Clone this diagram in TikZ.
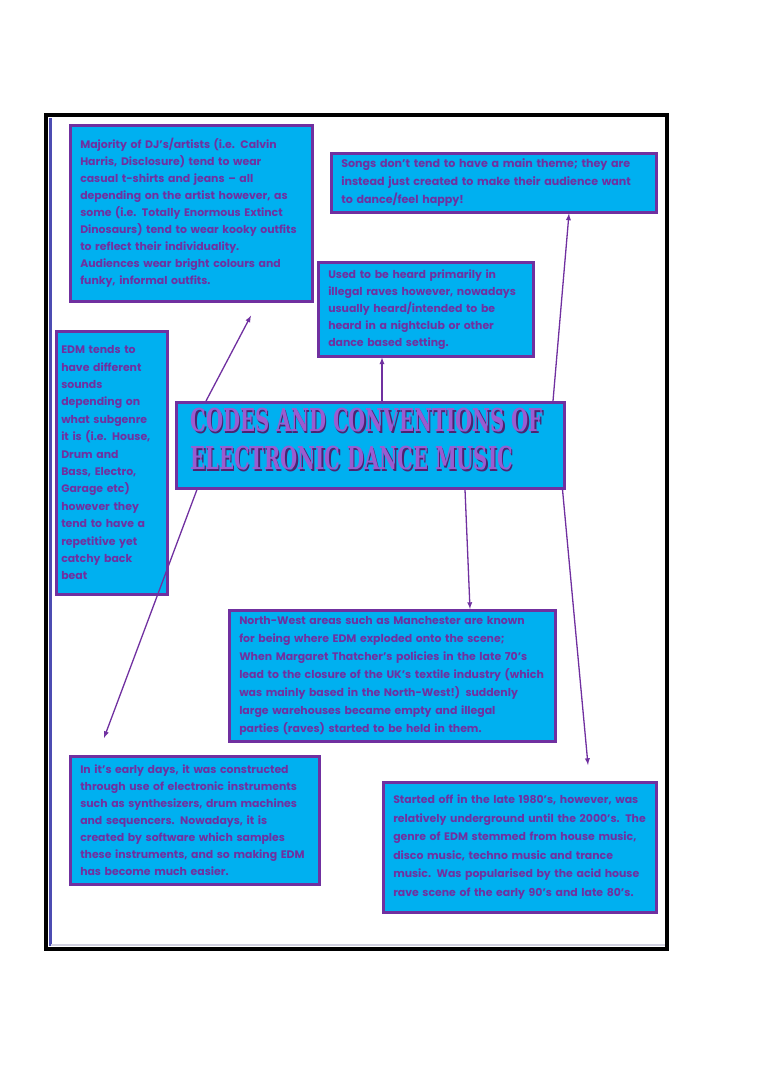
\documentclass[tikz,border=0pt]{standalone}
\usepackage{fontspec}
\setmainfont{Poppins}
\newfontfamily\titlefont{DejaVu Serif}
\usepackage{tikz}
\usetikzlibrary{calc,arrows,positioning}

\definecolor{edmblue}{HTML}{00B0F0}
\definecolor{edmpurple}{HTML}{7030A0}
\definecolor{edmlilac}{HTML}{9A5CD0}

\tikzset{
	infobox/.style={draw=edmpurple, line width=2.5pt, fill=edmblue, text=edmpurple,
		anchor=north west, align=left, inner xsep=10pt, inner ysep=4pt,
		font=\bfseries\fontsize{10.9}{17}\selectfont},
	link/.style={->,>=latex, edmpurple, line width=1.3pt}
}
\newcommand{\edmtitle}{\scalebox{0.785}[1.26]{\begin{tabular}{@{}l@{}}CODES AND CONVENTIONS OF\\ELECTRONIC DANCE MUSIC\end{tabular}}}

\begin{document}
\begin{tikzpicture}[x=1pt,y=-1pt]
		
		\useasboundingbox (0,0) rectangle (768,1087);
		
		% page frame
		\draw[black, line width=3.5pt] (46,115) rectangle (667,949);
		\draw[gray!60!blue, line width=3pt] (50,118)--(50,946);
		\draw[blue!20!gray!30, line width=1.5pt] (51,945)--(665,945);
		
		\begin{scope}
			\node[infobox, minimum width=242, minimum height=176, text width=222] (dress) at (69,124)
			{Majority of DJ's/artists (i.e. Calvin\\
			Harris, Disclosure) tend to wear\\
			casual t-shirts and jeans -- all\\
			depending on the artist however, as\\
			some (i.e. Totally Enormous Extinct\\
			Dinosaurs) tend to wear kooky outfits\\
			to reflect their individuality.\\
			Audiences wear bright colours and\\
			funky, informal outfits.\\[6pt]};
			
			\node[infobox, minimum width=325, minimum height=59, text width=305, font=\bfseries\fontsize{11.1}{18}\selectfont] (theme) at (330,152)
			{Songs don't tend to have a main theme; they are\\
			instead just created to make their audience want\\
			to dance/feel happy!};
			
			\node[infobox, minimum width=215, minimum height=94, text width=195] (setting) at (317,261)
			{Used to be heard primarily in\\
			illegal raves however, nowadays\\
			usually heard/intended to be\\
			heard in a nightclub or other\\
			dance based setting.};
			
			\node[infobox, minimum width=111, minimum height=263, text width=101, inner xsep=5pt, font=\bfseries\fontsize{10.9}{17.4}\selectfont] (sound) at (55,330)
			{EDM tends to\\
			have different\\
			sounds\\
			depending on\\
			what subgenre\\
			it is (i.e. House,\\
			Drum and\\
			Bass, Electro,\\
			Garage etc)\\
			however they\\
			tend to have a\\
			repetitive yet\\
			catchy back\\
			beat};
		\end{scope}
		
		% title
		\node[draw=edmpurple, line width=2.5pt, fill=edmblue, anchor=north west,
			minimum width=388, minimum height=86] (title) at (175,401) {};
		\node[anchor=west, text=edmpurple!70!black, align=left, font=\titlefont\bfseries\fontsize{25}{30}\selectfont]
			at ($(title.west)+(13.5,-0.5)$) {\edmtitle};
		\node[anchor=west, text=edmlilac, align=left, font=\titlefont\bfseries\fontsize{25}{30}\selectfont]
			at ($(title.west)+(12,-2)$) {\edmtitle};
		
		\begin{scope}
			\node[infobox, minimum width=326, minimum height=131, text width=306, font=\bfseries\fontsize{10.9}{18}\selectfont] (north) at (228,609)
			{North-West areas such as Manchester are known\\
			for being where EDM exploded onto the scene;\\
			When Margaret Thatcher's policies in the late 70's\\
			lead to the closure of the UK's textile industry (which\\
			was mainly based in the North-West!) suddenly\\
			large warehouses became empty and illegal\\
			parties (raves) started to be held in them.};
			
			\node[infobox, minimum width=249, minimum height=128, text width=229] (early) at (69,755)
			{In it's early days, it was constructed\\
			through use of electronic instruments\\
			such as synthesizers, drum machines\\
			and sequencers. Nowadays, it is\\
			created by software which samples\\
			these instruments, and so making EDM\\
			has become much easier.};
			
			\node[infobox, minimum width=273, minimum height=130, text width=253, font=\bfseries\fontsize{10.9}{18.5}\selectfont] (origin) at (382,781)
			{Started off in the late 1980's, however, was\\
			relatively underground until the 2000's. The\\
			genre of EDM stemmed from house music,\\
			disco music, techno music and trance\\
			music. Was popularised by the acid house\\
			rave scene of the early 90's and late 80's.\\[6pt]};
		\end{scope}
		
		% arrow ends
		\coordinate (dressend) at ($(dress.south west)+(182,13)$);
		\coordinate (earlyend) at ($(early.north west)+(35,-17)$);
		\coordinate (originend) at ($(origin.north west)+(206,-16)$);
		
		\draw[link] ($(title.north west)+(31,0)$) -- (dressend);
		\draw[link] ($(title.north west)+(207,0)$) -- (setting.south -| 382,0);
		\draw[link] ($(title.north west)+(378,0)$) -- ($(theme.south west)+(239,0)$);
		\draw[link] ($(title.south west)+(22,0)$) -- (earlyend);
		\draw[link] ($(title.south west)+(290,0)$) -- ($(north.north west)+(242,0)$);
		\draw[link] ($(title.south east)+(-3,0)$) -- (originend);
		
	\end{tikzpicture}
\end{document}
